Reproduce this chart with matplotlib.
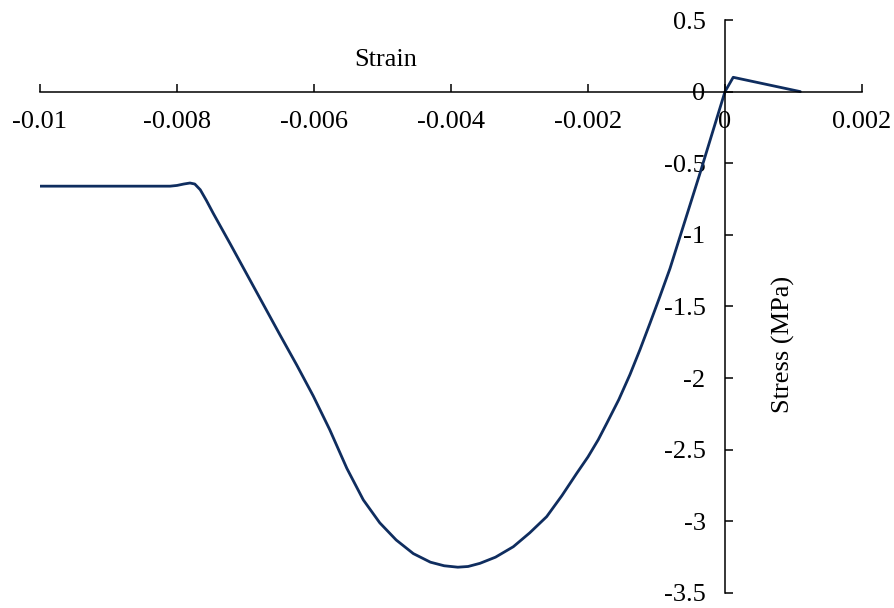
import matplotlib
matplotlib.use("Agg")
import matplotlib.pyplot as plt
from matplotlib.ticker import FuncFormatter

plt.rcParams['font.family'] = ['Liberation Serif', 'DejaVu Serif']
plt.rcParams['axes.unicode_minus'] = False

# stress-strain curve
strain = [-0.0100, -0.0090, -0.0081, -0.0080, -0.00790, -0.00781, -0.00774,
          -0.00766, -0.00757, -0.00747, -0.00722, -0.00698, -0.00674,
          -0.00650, -0.00625, -0.00601, -0.00577, -0.00552, -0.00528,
          -0.00504, -0.00480, -0.00455, -0.00430, -0.00410, -0.00390,
          -0.00375, -0.003577, -0.00335, -0.00309, -0.00285, -0.002603,
          -0.00238, -0.002165, -0.00200, -0.00185, -0.00172, -0.00155,
          -0.001387, -0.00124, -0.001095, -0.00095, -0.000803, -0.000657,
          -0.00051, -0.000365, -0.00017, 0.0,
          0.00012, 0.0011]
stress = [-0.66, -0.66, -0.66, -0.655, -0.645, -0.638, -0.645,
          -0.685, -0.76, -0.85, -1.065, -1.275, -1.485,
          -1.695, -1.91, -2.125, -2.36, -2.63, -2.85,
          -3.01, -3.13, -3.225, -3.285, -3.31, -3.32,
          -3.315, -3.293, -3.25, -3.177, -3.08, -2.967,
          -2.82, -2.665, -2.55, -2.43, -2.31, -2.15,
          -1.975, -1.80, -1.617, -1.43, -1.235, -1.013,
          -0.79, -0.57, -0.265, 0.0,
          0.10, 0.0]

xticks = [-0.01, -0.008, -0.006, -0.004, -0.002, 0, 0.002]
yticks = [0.5, 0, -0.5, -1, -1.5, -2, -2.5, -3, -3.5]

fig = plt.figure(figsize=(8.94, 6.08), dpi=100)
ax = fig.add_axes([0.0447, 0.0247, 0.9195, 0.9424])

ax.plot(strain, stress, color='#0f2d5f', lw=2.0,
        solid_joinstyle='round', solid_capstyle='round')

ax.set_xlim(-0.01, 0.002)
ax.set_ylim(-3.5, 0.5)
ax.set_xticks(xticks)
ax.set_yticks(yticks)
fmt = FuncFormatter(lambda v, p: '%g' % round(v, 6))
ax.xaxis.set_major_formatter(fmt)
ax.yaxis.set_major_formatter(fmt)

ax.spines['left'].set_position(('data', 0))
ax.spines['bottom'].set_position(('data', 0))
ax.spines['top'].set_visible(False)
ax.spines['right'].set_visible(False)
for s in ['left', 'bottom']:
    ax.spines[s].set_linewidth(1.1)

ax.tick_params(direction='in', length=6, width=1.1, labelsize=19)
ax.tick_params(axis='x', pad=14)
ax.tick_params(axis='y', pad=14)

ax.set_xlabel('Strain', fontsize=19)
ax.xaxis.set_label_coords(0.42, 0.93)
ax.xaxis.label.set_va('center')
ax.set_ylabel('Stress (MPa)', fontsize=19)
ax.yaxis.set_label_coords(0.904, 0.433)
ax.yaxis.label.set_va('center')

fig.savefig('out.png', dpi=100)
